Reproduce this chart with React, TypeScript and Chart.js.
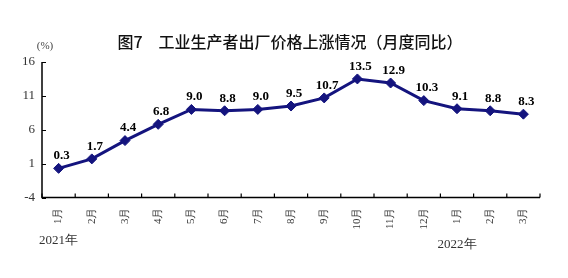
import React, { useEffect, useRef } from "react";
import { Chart, registerables } from "chart.js";

Chart.register(...registerables);

const months = ["1月", "2月", "3月", "4月", "5月", "6月", "7月", "8月", "9月", "10月", "11月", "12月", "1月", "2月", "3月"];
const ppiYoY = [0.3, 1.7, 4.4, 6.8, 9.0, 8.8, 9.0, 9.5, 10.7, 13.5, 12.9, 10.3, 9.1, 8.8, 8.3];
const yTicks = [-4, 1, 6, 11, 16];
const yearLabels = [
  { index: 0, text: "2021年" },
  { index: 12, text: "2022年" },
];
const titleText = "图7　工业生产者出厂价格上涨情况（月度同比）";
const unitText = "(%)";

const NAVY = "#14147e";
const SERIF = '"Liberation Serif", "Times New Roman", serif';

const decorPlugin = {
  id: "decor",
  afterDraw(chart: any) {
    const ctx = chart.ctx;
    const xs = chart.scales.x;
    const ys = chart.scales.y;
    const area = chart.chartArea;
    ctx.save();
    // title
    ctx.fillStyle = "#111";
    ctx.font = '500 16px "Noto Sans CJK SC", sans-serif';
    ctx.textAlign = "center";
    ctx.textBaseline = "middle";
    ctx.fillText(titleText, 290, 42);
    // unit
    ctx.fillStyle = "#444";
    ctx.font = "11px " + SERIF;
    ctx.fillText(unitText, 45, 46);

    // axes
    ctx.strokeStyle = "#000";
    ctx.lineWidth = 1.5;
    ctx.beginPath();
    ctx.moveTo(area.left, ys.getPixelForValue(yTicks[yTicks.length - 1]));
    ctx.lineTo(area.left, area.bottom);
    ctx.lineTo(area.right, area.bottom);
    ctx.stroke();
    ctx.lineWidth = 1.2;
    // y ticks (inside)
    ctx.beginPath();
    for (const v of yTicks) {
      const y = Math.round(ys.getPixelForValue(v)) + 0.5;
      ctx.moveTo(area.left, y);
      ctx.lineTo(area.left + 4, y);
    }
    // x ticks at category boundaries (inside)
    const n = months.length;
    for (let i = 0; i <= n; i++) {
      let x;
      if (i === 0) x = area.left;
      else if (i === n) x = area.right;
      else x = (xs.getPixelForValue(i - 1) + xs.getPixelForValue(i)) / 2;
      ctx.moveTo(x, area.bottom);
      ctx.lineTo(x, area.bottom - 4);
    }
    ctx.stroke();

    // year labels
    ctx.fillStyle = "#333";
    ctx.font = "13px " + SERIF;
    ctx.textAlign = "center";
    yearLabels.forEach((yl, k) => {
      ctx.fillText(yl.text, xs.getPixelForValue(yl.index), k === 0 ? 241 : 245);
    });

    // data labels
    const meta = chart.getDatasetMeta(0);
    ctx.fillStyle = "#000";
    ctx.font = "bold 13px " + SERIF;
    ctx.textAlign = "center";
    ctx.textBaseline = "middle";
    meta.data.forEach((pt: any, i: number) => {
      ctx.fillText(ppiYoY[i].toFixed(1), pt.x + 3, pt.y - 12.5);
    });
    ctx.restore();
  },
};

export default function App() {
  const ref = useRef<HTMLCanvasElement | null>(null);
  useEffect(() => {
    if (!ref.current) return;
    const chart = new Chart(ref.current, {
      type: "line",
      data: {
        labels: months,
        datasets: [
          {
            data: ppiYoY,
            borderColor: NAVY,
            backgroundColor: NAVY,
            borderWidth: 3,
            pointStyle: "rectRot",
            pointRadius: 5,
            pointBackgroundColor: NAVY,
            pointBorderColor: NAVY,
            pointBorderWidth: 1,
            tension: 0,
          },
        ],
      },
      options: {
        responsive: false,
        animation: false,
        devicePixelRatio: 1,
        layout: { padding: { left: 0, right: 28, top: 62, bottom: 0 } },
        plugins: { legend: { display: false }, tooltip: { enabled: false }, title: { display: false } },
        scales: {
          x: {
            type: "category",
            offset: true,
            grid: { display: false, drawTicks: false },
            border: { display: false },
            ticks: {
              autoSkip: false,
              minRotation: 90,
              maxRotation: 90,
              padding: 10,
              color: "#333",
              font: { family: SERIF, size: 11 },
            },
            afterFit: (s: any) => {
              s.height = 80.5;
            },
          },
          y: {
            min: yTicks[0],
            max: yTicks[yTicks.length - 1],
            grid: { display: false, drawTicks: false },
            border: { display: false },
            ticks: {
              stepSize: 5,
              padding: 7,
              color: "#333",
              font: { family: SERIF, size: 13 },
            },
            afterFit: (s: any) => {
              s.width = 42;
            },
          },
        },
      },
      plugins: [decorPlugin],
    });
    return () => chart.destroy();
  }, []);
  return (
    <div style={{ position: "absolute", left: 0, top: 0, width: 568, height: 278, background: "#fff" }}>
      <canvas ref={ref} width={568} height={278} />
    </div>
  );
}
